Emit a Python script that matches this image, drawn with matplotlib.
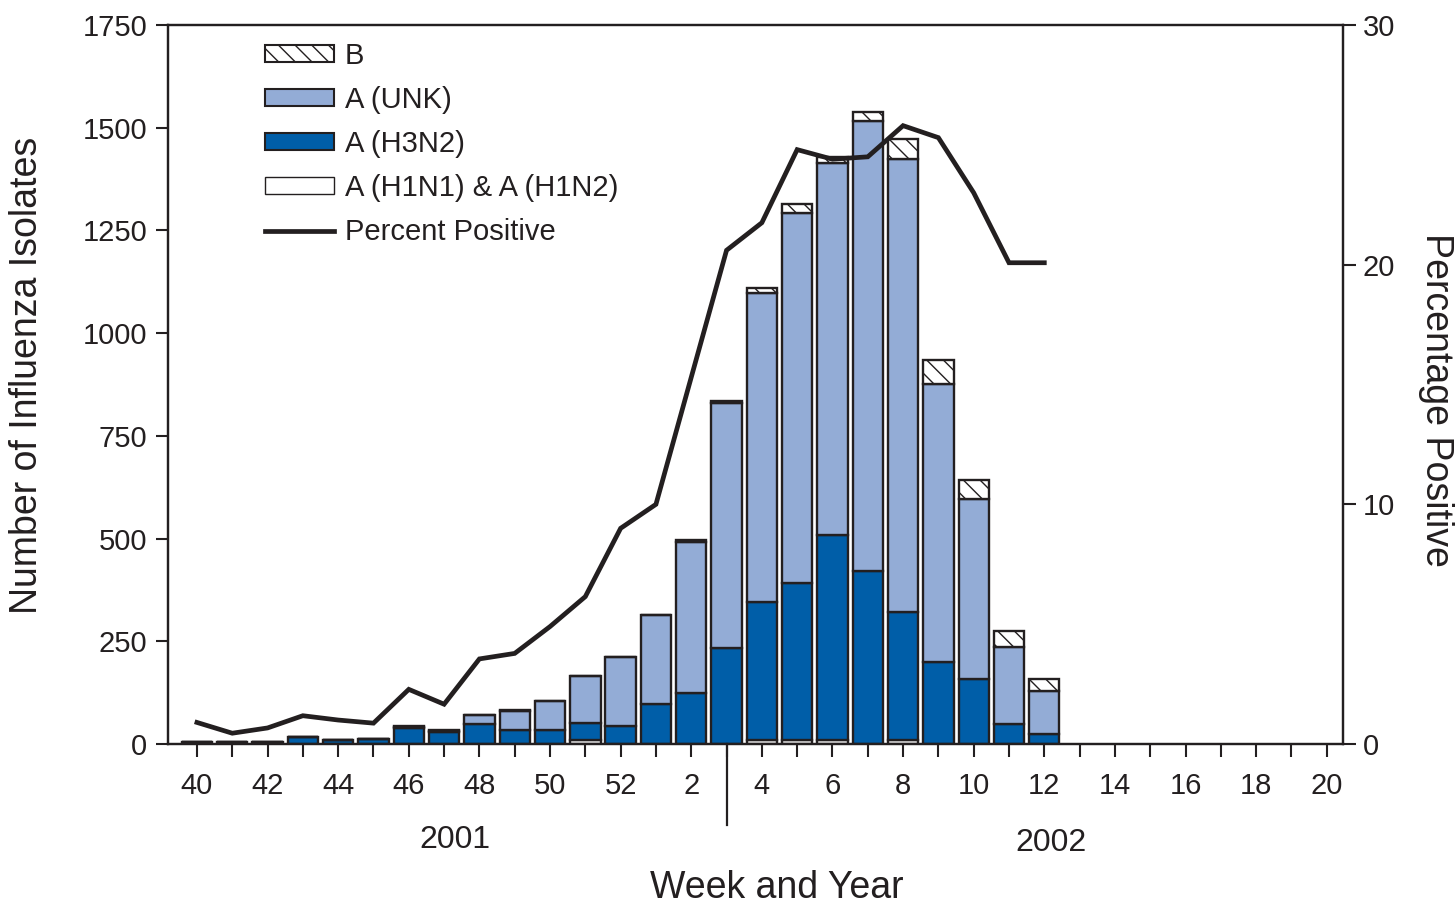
import matplotlib
matplotlib.use("Agg")
import matplotlib.pyplot as plt
import matplotlib.transforms as mtransforms
from matplotlib.patches import Patch
from matplotlib.lines import Line2D
import numpy as np

plt.rcParams['font.family'] = ['Liberation Sans', 'DejaVu Sans']
plt.rcParams['hatch.linewidth'] = 1.0

# ---- data ----
weeks = [40, 41, 42, 43, 44, 45, 46, 47, 48, 49, 50, 51, 52,
         1, 2, 3, 4, 5, 6, 7, 8, 9, 10, 11, 12, 13, 14, 15, 16, 17, 18, 19, 20]
bar_weeks = [40, 41, 42, 43, 44, 45, 46, 47, 48, 49, 50, 51, 52,
             1, 2, 3, 4, 5, 6, 7, 8, 9, 10, 11, 12]
h1 = [0, 0, 0, 0, 0, 0, 0, 0, 0, 0, 0, 10, 0,
      0, 0, 0, 10, 10, 10, 0, 10, 0, 0, 0, 0]
h3n2 = [5, 5, 5, 18, 10, 12, 38, 29, 48, 34, 34, 42, 44,
        97, 124, 233, 336, 381, 498, 421, 311, 199, 158, 49, 24]
a_unk = [0, 0, 0, 0, 0, 0, 3, 3, 22, 46, 71, 113, 168,
         217, 367, 597, 751, 901, 905, 1096, 1102, 677, 438, 188, 105]
b = [0, 0, 0, 0, 0, 0, 3, 3, 0, 3, 0, 0, 0,
     0, 5, 5, 12, 22, 15, 21, 49, 58, 46, 39, 29]
pct_pos = [0.9, 0.45, 0.67, 1.18, 1.0, 0.87, 2.28, 1.66, 3.55, 3.78, 4.9, 6.15, 9.0,
           10.0, 15.3, 20.6, 21.75, 24.8, 24.4, 24.5, 25.8, 25.3, 23.0, 20.08, 20.08]
left_ticks = [0, 250, 500, 750, 1000, 1250, 1500, 1750]
right_ticks = [0, 10, 20, 30]
years = ["2001", "2002"]

# ---- styles ----
EDGE = '#231f20'
C_UNK = '#93acd6'
C_H3 = '#005ea8'
FS_TICK = 21
W, H = 1455, 905

fig = plt.figure(figsize=(W / 100, H / 100), dpi=100)
ax = fig.add_axes([168 / W, 1 - 744 / H, (1343 - 168) / W, (744 - 25) / H])

x_all = np.arange(len(weeks))
xb = np.arange(len(bar_weeks))
h1a = np.array(h1, float)
h3a = np.array(h3n2, float)
unka = np.array(a_unk, float)
ba = np.array(b, float)

bw = 0.86
lw = 1.7
ax.bar(xb, h1a, bw, color='white', edgecolor=EDGE, linewidth=lw, zorder=2)
ax.bar(xb, h3a, bw, bottom=h1a, color=C_H3, edgecolor=EDGE, linewidth=lw, zorder=2)
ax.bar(xb, unka, bw, bottom=h1a + h3a, color=C_UNK, edgecolor=EDGE, linewidth=lw, zorder=2)
ax.bar(xb, ba, bw, bottom=h1a + h3a + unka, color='white', edgecolor=EDGE,
       linewidth=lw, hatch='\\\\', zorder=2)

ax.set_xlim(-0.82, 32.46)
ax.set_ylim(0, 1750)
ax.set_yticks(left_ticks)
ax.set_yticklabels([str(v) for v in left_ticks], fontsize=FS_TICK)
ax.set_xticks(x_all)
ax.set_xticklabels([str(w) if w % 2 == 0 else '' for w in weeks], fontsize=FS_TICK)
ax.tick_params(axis='y', direction='out', length=9, width=1.5, pad=6, colors=EDGE)
ax.tick_params(axis='x', direction='out', length=9, width=1.5, pad=11, colors=EDGE)
for s in ax.spines.values():
    s.set_linewidth(1.6)
    s.set_color(EDGE)

ax2 = ax.twinx()
ax2.set_ylim(0, 30)
ax2.set_yticks(right_ticks)
ax2.set_yticklabels([str(v) for v in right_ticks], fontsize=FS_TICK)
ax2.tick_params(axis='y', direction='out', length=9, width=1.5, pad=5, colors=EDGE)
for s in ax2.spines.values():
    s.set_linewidth(1.6)
    s.set_color(EDGE)
ax2.plot(np.arange(len(pct_pos)), pct_pos, color=EDGE, linewidth=3.4,
         solid_joinstyle='miter', zorder=5)

# year divider and year labels
trans = mtransforms.blended_transform_factory(ax.transData, fig.transFigure)
ax.add_line(Line2D([15, 15], [1 - 744 / H, 1 - 825 / H], transform=trans,
                   color=EDGE, linewidth=1.6, clip_on=False))
ax.text(7.3, 1 - 840 / H, years[0], transform=trans, ha='center', va='center',
        fontsize=23, color=EDGE)
ax.text(24.2, 1 - 843 / H, years[1], transform=trans, ha='center', va='center',
        fontsize=23, color=EDGE)

fig.text(777 / W, 1 - 888 / H, 'Week and Year', ha='center', va='center',
         fontsize=27, color=EDGE)
fig.text(27 / W, 1 - 375 / H, 'Number of Influenza Isolates', ha='center', va='center',
         rotation=90, fontsize=27, color=EDGE)
fig.text(1436 / W, 1 - 400 / H, 'Percentage Positive', ha='center', va='center',
         rotation=270, fontsize=27, color=EDGE)

handles = [
    Patch(facecolor='white', edgecolor=EDGE, hatch='\\\\', linewidth=1.5, label='B'),
    Patch(facecolor=C_UNK, edgecolor=EDGE, linewidth=1.5, label='A (UNK)'),
    Patch(facecolor=C_H3, edgecolor=EDGE, linewidth=1.5, label='A (H3N2)'),
    Patch(facecolor='white', edgecolor=EDGE, linewidth=1.0, label='A (H1N1) & A (H1N2)'),
    Line2D([0], [0], color=EDGE, linewidth=3.4, label='Percent Positive'),
]
leg = ax2.legend(handles=handles, loc='upper left',
                 bbox_to_anchor=(265 / W, 1 - 42 / H), bbox_transform=fig.transFigure,
                 frameon=False, fontsize=FS_TICK, handlelength=2.35, handleheight=0.5,
                 handletextpad=0.38, labelspacing=0.55, borderpad=0, borderaxespad=0)
for t in leg.get_texts():
    t.set_color(EDGE)

fig.savefig('out.png', dpi=100)
